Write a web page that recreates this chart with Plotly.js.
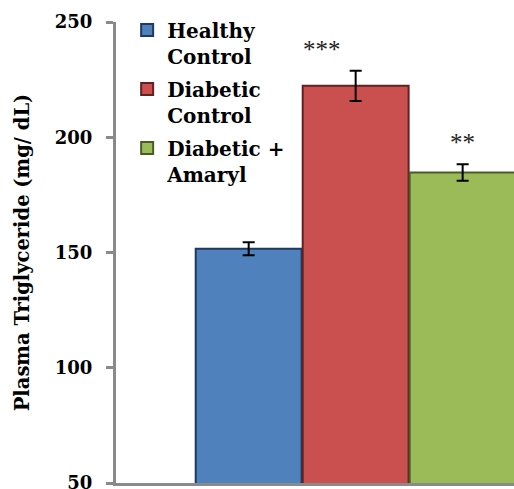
<!DOCTYPE html>
<html>
<head>
<meta charset="utf-8">
<script src="https://cdn.plot.ly/plotly-3.0.1.min.js"></script>
<style>
  html, body { margin: 0; padding: 0; background: #ffffff; }
  #chart { width: 514px; height: 489px; }
</style>
</head>
<body>
<div id="chart"></div>
<script>
// Plasma triglyceride by study group (mean ± SEM, mg/dL)
const groups = ['Healthy Control', 'Diabetic Control', 'Diabetic + Amaryl'];
const legendNames = ['Healthy<br>Control', 'Diabetic<br>Control', 'Diabetic +<br>Amaryl'];
const triglyceride = [151.6, 222.3, 184.7];
const sem = [2.8, 6.6, 3.6];
const significance = ['', '***', '**'];
const yTicks = [50, 100, 150, 200, 250];

const fills = ['#4F81BD', '#C9504F', '#9BBB59'];
const edges = ['#1f3a5e', '#5e2321', '#4a5c25'];
const serif = 'DejaVu Serif, Liberation Serif, serif';

const traces = groups.map((g, i) => ({
  type: 'bar',
  name: legendNames[i],
  legendgroup: 'g' + i,
  x: [g],
  y: [triglyceride[i]],
  width: 0.99,
  marker: { color: fills[i], line: { color: edges[i], width: 2 } },
  error_y: { type: 'data', array: [sem[i]], color: '#000000', thickness: 2, width: 6 },
  hoverinfo: 'x+y'
}));

const annotations = groups.map((g, i) => ({
  x: g,
  y: triglyceride[i] + sem[i],
  xref: 'x', yref: 'y',
  text: significance[i],
  showarrow: false,
  yanchor: 'bottom',
  yshift: 6,
  xshift: i === 1 ? -34 : 0,
  font: { family: 'Liberation Serif, serif', size: 25, color: '#222222' }
})).filter(a => a.text);

const layout = {
  width: 514,
  height: 489,
  margin: { l: 116, r: 0, t: 22, b: 6 },
  paper_bgcolor: '#ffffff',
  plot_bgcolor: '#ffffff',
  barmode: 'overlay',
  showlegend: true,
  legend: {
    x: 0.028, y: 1.025, xanchor: 'left', yanchor: 'top',
    bgcolor: 'rgba(0,0,0,0)',
    valign: 'top',
    tracegroupgap: 4,
    traceorder: 'grouped',
    font: { family: serif, size: 20, color: '#000000', weight: 'bold' }
  },
  xaxis: {
    type: 'category',
    range: [-1.24, 2.48],
    showticklabels: false,
    ticks: '',
    showgrid: false,
    zeroline: false,
    showline: true,
    linewidth: 3,
    linecolor: '#8a8a8a'
  },
  yaxis: {
    range: [50, 250],
    tickvals: yTicks,
    ticktext: yTicks.map(String),
    ticks: 'outside',
    ticklen: 7,
    tickwidth: 3,
    tickcolor: '#8a8a8a',
    ticklabelstandoff: 10,
    ticklabeloverflow: 'allow',
    showgrid: false,
    zeroline: false,
    showline: true,
    linewidth: 3,
    linecolor: '#8a8a8a',
    tickfont: { family: serif, size: 18, color: '#000000', weight: 'bold' },
    title: {
      text: 'Plasma Triglyceride (mg/ dL)',
      standoff: 20,
      font: { family: serif, size: 19.5, color: '#000000', weight: 'bold' }
    }
  },
  annotations: annotations
};

Plotly.newPlot('chart', traces, layout, { displayModeBar: false, staticPlot: true });
</script>
</body>
</html>
